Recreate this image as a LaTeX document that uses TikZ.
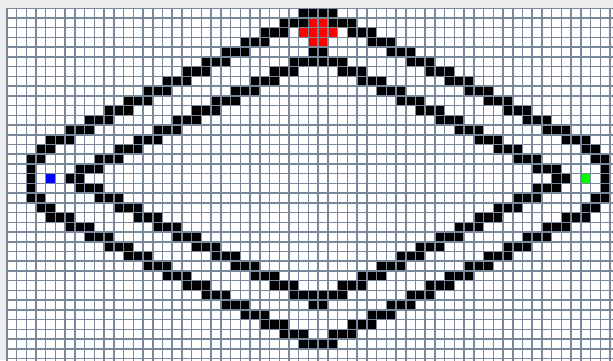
\documentclass[tikz,border=0pt]{standalone}
\usepackage{tikz}
\usetikzlibrary{positioning}
\definecolor{gridgray}{RGB}{122,137,153}
\definecolor{framegray}{RGB}{238,238,238}
\definecolor{startblue}{RGB}{0,0,255}
\definecolor{goalgreen}{RGB}{0,255,0}
\definecolor{pathred}{RGB}{255,0,0}
\begin{document}
\begin{tikzpicture}[x=0.25cm,y=0.25cm,
wall/.style={fill=black},
mark cell/.style={fill=pathred},
gridline/.style={draw=gridgray,line width=1.1pt}]
\fill[framegray](-0.7,0.85)rectangle(62.3,-36.15);
\clip(-0.7,0.85)rectangle(62.3,-36.15);
\fill[white](0,0)rectangle(62.3,-36.15);
\foreach \r/\a/\b in {0/30/31,1/28/30,2/26/28,3/24/26,4/22/24,5/20/22,6/18/20,7/16/18,8/14/16,
  9/12/14,10/10/12,11/8/10,12/6/8,13/4/6,14/3/4,15/2/3,16/2/2,17/2/2,
  4/31/31,5/29/31,6/27/29,7/25/27,8/23/25,9/21/23,10/19/21,11/17/19,12/15/17,
  13/13/15,14/11/13,15/9/11,16/7/9,17/6/7}
  \foreach \c in {\a,...,\b}{
    \fill[wall](\c,-\r)rectangle++(1,-1);
    \fill[wall]({63-\c},-\r)rectangle++(1,-1);
    \fill[wall](\c,{\r-34})rectangle++(1,-1);
    \fill[wall]({63-\c},{\r-34})rectangle++(1,-1);
  }
\foreach \c/\r in {31/1,32/1,30/2,31/2,32/2,33/2,31/3,32/3}
  \fill[mark cell](\c,-\r)rectangle++(1,-1);
\fill[startblue](4,-17)rectangle++(1,-1);
\fill[goalgreen](59,-17)rectangle++(1,-1);
\draw[gridline,step=1](0,-37)grid(63,0);
\end{tikzpicture}
\end{document}
